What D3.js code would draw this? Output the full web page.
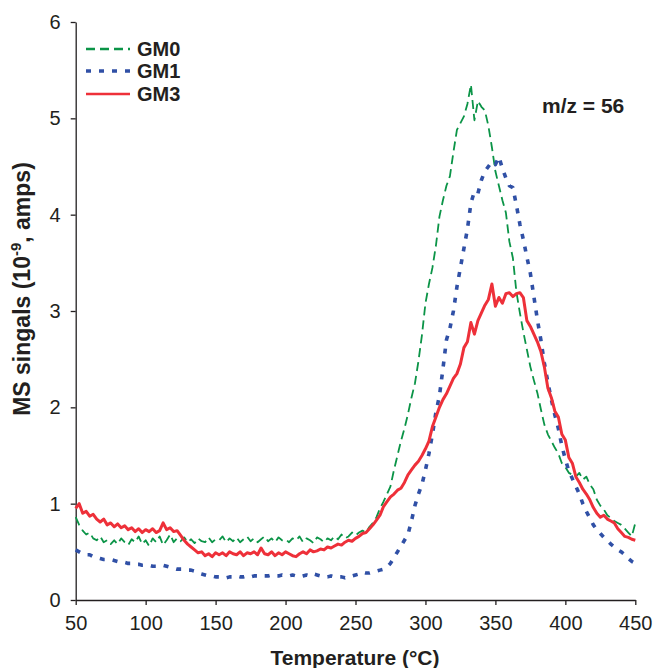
<!DOCTYPE html>
<html>
<head>
<meta charset="utf-8">
<script src="https://cdn.jsdelivr.net/npm/d3@7"></script>
<style>
  body { margin: 0; background: #fff; }
  svg text { font-family: "Liberation Sans", Arial, sans-serif; fill: #231f20; }
</style>
</head>
<body>
<div id="chart"></div>
<script>
// Temperature grid, °C (every 2.5 °C from 50 to 450)
const temps = d3.range(50, 450.01, 2.5);

// MS signal, 10^-9 amps
const gm0 = [
  0.86, 0.78, 0.72, 0.68, 0.70, 0.64, 0.62, 0.66, 0.60, 0.62, 0.58,
  0.62, 0.58, 0.64, 0.60, 0.57, 0.63, 0.60, 0.66, 0.58, 0.62,
  0.56, 0.64, 0.60, 0.66, 0.57, 0.62, 0.68, 0.60, 0.64, 0.61,
  0.65, 0.60, 0.63, 0.59, 0.64, 0.61, 0.60, 0.65, 0.60, 0.63,
  0.62, 0.66, 0.60, 0.64, 0.61, 0.65, 0.60, 0.63, 0.66, 0.61,
  0.64, 0.60, 0.63, 0.66, 0.61, 0.64, 0.60, 0.65, 0.62, 0.63,
  0.60, 0.64, 0.62, 0.66, 0.60, 0.64, 0.62, 0.59, 0.65, 0.63,
  0.60, 0.64, 0.62, 0.66, 0.63, 0.68, 0.64, 0.66, 0.70, 0.67,
  0.70, 0.72, 0.70, 0.76, 0.80, 0.86, 0.95, 1.02, 1.10, 1.18,
  1.35, 1.50, 1.65, 1.78, 1.93, 2.10, 2.25, 2.48, 2.75, 3.08,
  3.28, 3.45, 3.68, 3.98, 4.15, 4.30, 4.40, 4.65, 4.88, 4.95,
  5.02, 5.15, 5.35, 4.98, 5.18, 5.12, 5.08, 4.92, 4.70, 4.45,
  4.30, 4.15, 4.02, 3.72, 3.55, 3.20, 2.98, 2.78, 2.60, 2.42,
  2.28, 2.15, 1.98, 1.82, 1.72, 1.65, 1.58, 1.52, 1.42, 1.38,
  1.32, 1.30, 1.28, 1.32, 1.25, 1.28, 1.20, 1.15, 1.04, 0.98,
  0.94, 0.88, 0.85, 0.82, 0.80, 0.78, 0.74, 0.70, 0.66, 0.80
];

const gm1 = [
  0.52, 0.50, 0.48, 0.47, 0.47, 0.45, 0.44, 0.43, 0.42, 0.42, 0.42,
  0.41, 0.40, 0.40, 0.39, 0.38, 0.38, 0.37, 0.37, 0.36, 0.36,
  0.36, 0.35, 0.35, 0.35, 0.36, 0.35, 0.34, 0.33, 0.32, 0.32,
  0.32, 0.31, 0.31, 0.30, 0.28, 0.27, 0.26, 0.25, 0.25, 0.24,
  0.24, 0.24, 0.23, 0.24, 0.24, 0.25, 0.24, 0.24, 0.25, 0.24,
  0.25, 0.25, 0.24, 0.25, 0.25, 0.26, 0.25, 0.25, 0.26, 0.25,
  0.25, 0.26, 0.25, 0.24, 0.25, 0.26, 0.25, 0.27, 0.26, 0.25,
  0.24, 0.24, 0.25, 0.24, 0.24, 0.24, 0.23, 0.24, 0.25, 0.26,
  0.27, 0.29, 0.28, 0.28, 0.29, 0.30, 0.31, 0.32, 0.34, 0.38,
  0.44, 0.50, 0.56, 0.62, 0.68, 0.82, 0.98, 1.10, 1.20, 1.35,
  1.52, 1.72, 1.95, 2.12, 2.40, 2.70, 2.82, 3.00, 3.25, 3.45,
  3.65, 3.85, 4.12, 4.24, 4.22, 4.36, 4.45, 4.50, 4.55, 4.52,
  4.60, 4.48, 4.38, 4.30, 4.28, 4.10, 3.90, 3.74, 3.56, 3.39,
  3.15, 2.91, 2.70, 2.46, 2.26, 2.08, 1.92, 1.78, 1.60, 1.46,
  1.34, 1.26, 1.18, 1.10, 1.00, 0.92, 0.85, 0.78, 0.73, 0.69,
  0.65, 0.62, 0.58, 0.55, 0.52, 0.50, 0.47, 0.43, 0.40, 0.38
];

const gm3 = [
  0.95, 1.00, 0.90, 0.92, 0.87, 0.89, 0.84, 0.81, 0.84, 0.78, 0.80,
  0.76, 0.79, 0.75, 0.77, 0.73, 0.75, 0.71, 0.74, 0.70, 0.73,
  0.71, 0.74, 0.70, 0.72, 0.80, 0.73, 0.75, 0.71, 0.72, 0.67,
  0.62, 0.58, 0.55, 0.52, 0.49, 0.50, 0.46, 0.48, 0.45, 0.49,
  0.47, 0.49, 0.46, 0.50, 0.48, 0.47, 0.50, 0.46, 0.49, 0.48,
  0.50, 0.47, 0.54, 0.48, 0.47, 0.50, 0.46, 0.49, 0.47, 0.50,
  0.48, 0.46, 0.45, 0.48, 0.50, 0.48, 0.52, 0.50, 0.51, 0.53,
  0.52, 0.55, 0.54, 0.56, 0.58, 0.57, 0.60, 0.62, 0.61, 0.64,
  0.66, 0.69, 0.70, 0.74, 0.78, 0.83, 0.88, 0.97, 1.02, 1.07,
  1.10, 1.14, 1.16, 1.22, 1.30, 1.35, 1.40, 1.44, 1.50, 1.57,
  1.65, 1.80, 1.90, 2.00, 2.08, 2.14, 2.22, 2.30, 2.35, 2.45,
  2.62, 2.68, 2.88, 2.76, 2.90, 2.98, 3.06, 3.12, 3.28, 3.05,
  3.14, 3.08, 3.18, 3.19, 3.15, 3.18, 3.19, 3.14, 2.90, 2.84,
  2.76, 2.68, 2.58, 2.42, 2.20, 2.10, 1.96, 1.90, 1.72, 1.66,
  1.48, 1.42, 1.28, 1.22, 1.15, 1.10, 1.04, 0.96, 0.90, 0.86,
  0.88, 0.84, 0.82, 0.80, 0.74, 0.70, 0.66, 0.65, 0.63, 0.62
];

const seriesNames = ['GM0', 'GM1', 'GM3'];
const xTicks = [50, 100, 150, 200, 250, 300, 350, 400, 450];
const yTicks = [0, 1, 2, 3, 4, 5, 6];

const W = 655, H = 668;
const x = d3.scaleLinear().domain([50, 450]).range([75.7, 635.3]);
const y = d3.scaleLinear().domain([0, 6]).range([600, 22]);

const styles = [
  { color: '#0b9447', width: 1.8, dash: '9,5' },
  { color: '#3050a6', width: 3.6, dash: '5,8' },
  { color: '#ee3039', width: 3, dash: null }
];

const svg = d3.select('#chart').append('svg')
  .attr('width', W)
  .attr('height', H);

// Axes
const xAxis = svg.append('g')
  .attr('transform', `translate(0,${y(0)})`)
  .call(d3.axisBottom(x).tickValues(xTicks).tickSize(5).tickPadding(11).tickSizeOuter(0));
const yAxis = svg.append('g')
  .attr('transform', `translate(${x(50)},0)`)
  .call(d3.axisLeft(y).tickValues(yTicks).tickFormat(d3.format('d'))
    .tickSize(5).tickPadding(10).tickSizeOuter(0));

[xAxis, yAxis].forEach(a => {
  a.selectAll('path, line').attr('stroke', '#231f20').attr('stroke-width', 1.3);
  a.selectAll('text').style('font-size', '20px').style('fill', '#231f20');
});

// Lines
const line = d3.line()
  .x((d, i) => x(temps[i]))
  .y(d => y(d));

[gm0, gm1, gm3].forEach((vals, k) => {
  const s = styles[k];
  svg.append('path')
    .datum(vals)
    .attr('fill', 'none')
    .attr('stroke', s.color)
    .attr('stroke-width', s.width)
    .attr('stroke-linejoin', 'round')
    .attr('stroke-dasharray', s.dash)
    .attr('d', line);
});

// Legend
const legend = svg.append('g');
seriesNames.forEach((name, k) => {
  const s = styles[k];
  const ly = [49, 71, 94][k];
  legend.append('line')
    .attr('x1', 86).attr('x2', 130)
    .attr('y1', ly).attr('y2', ly)
    .attr('stroke', s.color)
    .attr('stroke-width', k === 1 ? 3.6 : 2.6)
    .attr('stroke-dasharray', s.dash);
  legend.append('text')
    .attr('x', 137).attr('y', ly + 7)
    .style('font-size', '20px')
    .style('font-weight', 'bold')
    .text(name);
});

// Annotation
svg.append('text')
  .attr('x', 542).attr('y', 113)
  .style('font-size', '21px')
  .style('font-weight', 'bold')
  .text('m/z = 56');

// Axis titles
svg.append('text')
  .attr('x', 355).attr('y', 665)
  .attr('text-anchor', 'middle')
  .style('font-size', '21px')
  .style('font-weight', 'bold')
  .text('Temperature (°C)');

const yt = svg.append('text')
  .attr('transform', 'translate(30,289) rotate(-90)')
  .attr('text-anchor', 'middle')
  .style('font-size', '23px')
  .style('font-weight', 'bold');
yt.append('tspan').text('MS singals (10');
yt.append('tspan').attr('dy', -9).style('font-size', '15px').text('-9');
yt.append('tspan').attr('dy', 9).text(', amps)');
</script>
</body>
</html>
